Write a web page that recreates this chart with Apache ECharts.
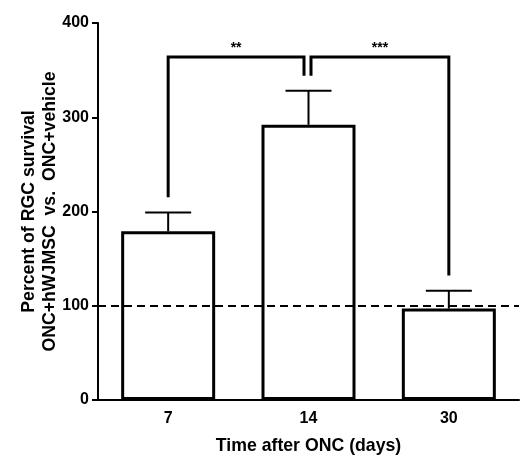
<!DOCTYPE html>
<html>
<head>
<meta charset="utf-8">
<script src="https://cdn.jsdelivr.net/npm/echarts@6/dist/echarts.min.js"></script>
<style>html,body{margin:0;padding:0;background:#fff}#c{width:521px;height:456px}</style>
</head>
<body>
<div id="c"></div>
<script>
var categories = ['7', '14', '30'];
var meanValues = [179, 292, 97];
var semValues = [20, 36, 19];
var yTicks = [0, 100, 200, 300, 400];
var refLineValue = 100;
var bracketFrom = [0, 1];
var bracketTo = [1, 2];
var bracketTop = [364, 364];
var bracketFromLow = [215, 344];
var bracketToLow = [344, 132];
var bracketLabels = ['**', '***'];
var bracketLabelValue = [373, 373];

var FONT = 'Liberation Sans, Arial, Helvetica, sans-serif';
var chart = echarts.init(document.getElementById('c'), null, {renderer: 'canvas'});

var errData = categories.map(function (c, i) { return [i, meanValues[i], semValues[i]]; });
var brData = bracketFrom.map(function (f, i) {
  return [f, bracketTo[i], bracketTop[i], bracketFromLow[i], bracketToLow[i], bracketLabelValue[i], i];
});

chart.setOption({
  animation: false,
  grid: {left: 98, right: 2, top: 23, bottom: 56, containLabel: false, outerBoundsMode: 'none'},
  xAxis: {
    type: 'category',
    data: categories,
    name: 'Time after ONC (days)',
    nameLocation: 'middle',
    nameGap: 37,
    nameMoveOverlap: false,
    nameTextStyle: {fontFamily: FONT, fontWeight: 'bold', fontSize: 17.7, color: '#000'},
    axisLine: {lineStyle: {color: '#000', width: 2}},
    axisTick: {alignWithLabel: true, length: 6, lineStyle: {color: '#000', width: 2}},
    axisLabel: {fontFamily: FONT, fontWeight: 'bold', fontSize: 16, color: '#000', margin: 11},
    splitLine: {show: false}
  },
  yAxis: {
    type: 'value',
    min: yTicks[0],
    max: yTicks[yTicks.length - 1],
    interval: yTicks[1] - yTicks[0],
    name: 'Percent of RGC survival\nONC+hWJMSC  vs.  ONC+vehicle',
    nameLocation: 'middle',
    nameGap: 37,
    nameMoveOverlap: false,
    nameTextStyle: {fontFamily: FONT, fontWeight: 'bold', fontSize: 17.7, color: '#000', lineHeight: 21},
    axisLine: {show: true, lineStyle: {color: '#000', width: 2}},
    axisTick: {show: true, length: 6, lineStyle: {color: '#000', width: 2}},
    axisLabel: {fontFamily: FONT, fontWeight: 'bold', fontSize: 16, color: '#000', margin: 9},
    splitLine: {show: false}
  },
  series: [
    {
      type: 'bar',
      data: meanValues,
      barWidth: 94,
      itemStyle: {color: 'rgba(0,0,0,0)', borderColor: '#000', borderWidth: 3},
      z: 2,
      markLine: {
        silent: true,
        symbol: 'none',
        label: {show: false},
        lineStyle: {color: '#000', width: 2, type: [8, 5]},
        data: [{yAxis: refLineValue}]
      }
    },
    {
      type: 'custom',
      data: errData,
      z: 3,
      renderItem: function (params, api) {
        var i = api.value(0), m = api.value(1), e = api.value(2);
        var base = api.coord([i, m]);
        var top = api.coord([i, m + e]);
        var hw = 23;
        return {
          type: 'group',
          children: [
            {type: 'line', shape: {x1: base[0], y1: base[1], x2: top[0], y2: top[1]}, style: {stroke: '#000', lineWidth: 2}},
            {type: 'line', shape: {x1: top[0] - hw, y1: top[1], x2: top[0] + hw, y2: top[1]}, style: {stroke: '#000', lineWidth: 2}}
          ]
        };
      }
    },
    {
      type: 'custom',
      data: brData,
      z: 3,
      renderItem: function (params, api) {
        var f = api.value(0), t = api.value(1), topV = api.value(2), lowF = api.value(3), lowT = api.value(4), labV = api.value(5), idx = api.value(6);
        var pF = api.coord([f, topV]);
        var pT = api.coord([t, topV]);
        var pFL = api.coord([f, lowF]);
        var pTL = api.coord([t, lowT]);
        var pLab = api.coord([(f + t) / 2, labV]);
        var offF = idx === 1 ? 2.5 : 0;
        var offT = idx === 0 ? -4.5 : 0;
        var x1 = pF[0] + offF, x2 = pT[0] + offT;
        return {
          type: 'group',
          children: [
            {type: 'polyline', shape: {points: [[x1, pFL[1]], [x1, pF[1]], [x2, pT[1]], [x2, pTL[1]]]}, style: {stroke: '#000', lineWidth: 3, fill: null, lineJoin: 'miter'}},
            {type: 'text', style: {text: bracketLabels[idx], x: (x1 + x2) / 2, y: pLab[1], align: 'center', verticalAlign: 'middle', font: 'bold 14px ' + FONT, fill: '#000'}}
          ]
        };
      }
    }
  ]
});
</script>
</body>
</html>
